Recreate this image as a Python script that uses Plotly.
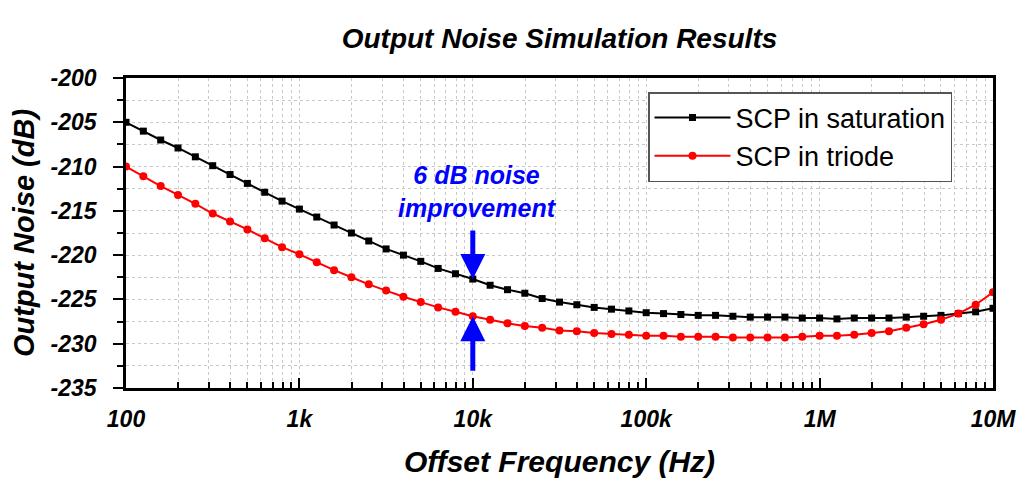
import numpy as np
import plotly.graph_objects as go

# Offset frequency: 10 log-spaced points per decade from 100 Hz to 10 MHz
freq = [round(10 ** (2 + i / 10), 4) for i in range(51)]

sat_db = [
    -205.0, -206.0, -207.0, -207.9, -208.9, -209.9, -210.9, -211.9, -212.9, -213.9,
    -214.8, -215.7, -216.6, -217.5, -218.4, -219.3, -220.0, -220.7, -221.5, -222.1,
    -222.7, -223.4, -223.9, -224.3, -224.9, -225.3, -225.6, -225.9, -226.1, -226.3,
    -226.5, -226.6, -226.7, -226.8, -226.8, -226.9, -227.0, -227.0, -227.0, -227.1,
    -227.1, -227.2, -227.1, -227.1, -227.1, -227.0, -226.9, -226.8, -226.6, -226.4,
    -226.0,
]
tri_db = [
    -210.0, -211.1, -212.2, -213.2, -214.2, -215.3, -216.2, -217.1, -218.1, -219.1,
    -219.9, -220.8, -221.7, -222.5, -223.3, -224.0, -224.7, -225.3, -225.9, -226.4,
    -226.9, -227.3, -227.7, -228.0, -228.2, -228.5, -228.6, -228.8, -228.9, -229.0,
    -229.1, -229.1, -229.2, -229.2, -229.2, -229.3, -229.3, -229.3, -229.3, -229.2,
    -229.1, -229.1, -229.0, -228.8, -228.6, -228.2, -227.8, -227.3, -226.6, -225.6,
    -224.2,
]

x_tickvals = [1e2, 1e3, 1e4, 1e5, 1e6, 1e7]
x_ticktext = ["100", "1k", "10k", "100k", "1M", "10M"]
x_minor = [m * 10 ** e for e in range(2, 7) for m in range(2, 10)]
y_tickvals = [-200, -205, -210, -215, -220, -225, -230, -235]

FONT = "Liberation Sans, Arial, sans-serif"
GRID = "#c8c8c8"

fig = go.Figure()
fig.add_trace(go.Scatter(
    x=freq, y=sat_db, mode="lines+markers", name="SCP in saturation",
    line=dict(color="black", width=2),
    marker=dict(symbol="square", size=7, color="black"),
))
fig.add_trace(go.Scatter(
    x=freq, y=tri_db, mode="lines+markers", name="SCP in triode",
    line=dict(color="#ff0000", width=2),
    marker=dict(symbol="circle", size=8, color="#ff0000"),
))

W, H = 1024, 478  # page has an 8px body margin
fig.update_layout(
    width=W, height=H,
    margin=dict(l=118, r=39, t=70, b=98),
    paper_bgcolor="white", plot_bgcolor="white",
    font=dict(family=FONT, color="black"),
    title=dict(
        text="<b><i>Output Noise Simulation Results</i></b>",
        x=(118 + 985) / 2 / W, xanchor="center",
        y=1 - 30 / H, yanchor="middle",
        font=dict(size=28, family=FONT),
    ),
    showlegend=True,
    legend=dict(
        x=(640 - 118) / 867, y=(380 - 84) / 310, xanchor="left", yanchor="top",
        bordercolor="#555555", borderwidth=1.5, bgcolor="white",
        font=dict(size=27, family=FONT),
        tracegroupgap=0, itemsizing="trace", itemwidth=76,
    ),
    xaxis=dict(
        type="log", range=[2, 7],
        tickmode="array", tickvals=x_tickvals,
        ticktext=[f"<b><i>{t}</i></b>" for t in x_ticktext],
        tickfont=dict(size=23, family=FONT),
        ticks="inside", ticklen=10, tickwidth=2, tickcolor="black",
        ticklabelstandoff=9,
        showline=True, linecolor="black", linewidth=2.5, mirror=True,
        showgrid=True, gridcolor=GRID, griddash="dot", gridwidth=1,
        minor=dict(tickmode="array", tickvals=x_minor, ticks="inside", ticklen=6,
                   tickwidth=2, tickcolor="black",
                   showgrid=True, gridcolor=GRID, griddash="dot", gridwidth=1),
        title=dict(text="<b><i>Offset Frequency (Hz)</i></b>",
                   font=dict(size=30, family=FONT), standoff=20),
        zeroline=False,
    ),
    yaxis=dict(
        range=[-235, -200],
        tickmode="array", tickvals=y_tickvals,
        ticktext=[f"<b><i>{v}</i></b>" for v in y_tickvals],
        tickfont=dict(size=23, family=FONT),
        ticks="outside", ticklen=10, tickwidth=2, tickcolor="black",
        ticklabelstandoff=12,
        showline=True, linecolor="black", linewidth=2.5, mirror=True,
        showgrid=True, gridcolor=GRID, griddash="dot", gridwidth=1,
        minor=dict(dtick=2.5, ticks="outside", ticklen=6, tickwidth=2,
                   tickcolor="black",
                   showgrid=True, gridcolor=GRID, griddash="dot", gridwidth=1),
        title=dict(text="<b><i>Output Noise (dB)</i></b>",
                   font=dict(size=29, family=FONT), standoff=8),
        zeroline=False,
    ),
)

# annotation text and arrows at 10 kHz
fig.add_annotation(
    x=np.log10(1e4), y=-200 - (191 - 78) / (310 / 35), xref="x", yref="y",
    text="<b><i>6 dB noise<br>improvement</i></b>", showarrow=False,
    xshift=5, font=dict(size=25, color="#0000ff", family=FONT),
    align="center",
)
fig.add_annotation(
    x=np.log10(1e4), y=sat_db[20], xref="x", yref="y", text="",
    showarrow=True, arrowhead=2, arrowsize=1, arrowwidth=5,
    arrowcolor="#0000ff", ax=0, ay=-50,
)
fig.add_annotation(
    x=np.log10(1e4), y=tri_db[20], xref="x", yref="y", text="",
    showarrow=True, arrowhead=2, arrowsize=1, arrowwidth=5,
    arrowcolor="#0000ff", ax=0, ay=56,
)

fig.write_html("out.html")
